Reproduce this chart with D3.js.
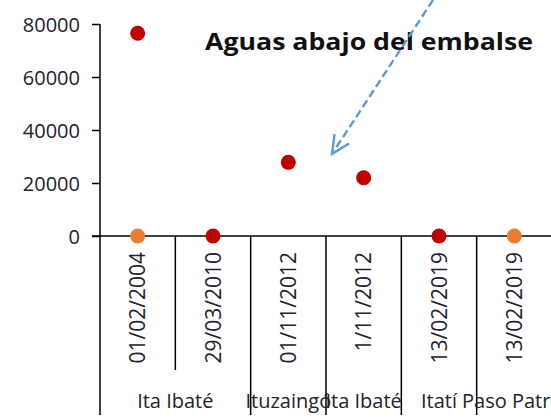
<!DOCTYPE html>
<html>
<head>
<meta charset="utf-8">
<script src="https://cdn.jsdelivr.net/npm/d3@7"></script>
<style>
  html, body { margin: 0; padding: 0; background: #fff; }
  svg { display: block; }
  text { font-family: "Open Sans", "Noto Sans", sans-serif; }
</style>
</head>
<body>
<svg id="chart" width="551" height="419"></svg>
<script>
// Sampling dates (one per category) and the site each belongs to
const dates = ["01/02/2004", "29/03/2010", "01/11/2012", "1/11/2012", "13/02/2019", "13/02/2019"];
const sites = ["Ita Ibaté", "Ita Ibaté", "Ituzaingó", "Ita Ibaté", "Itatí", "Paso Patria"];
// Two measured series (null = no sample)
const seriesRed = [76500, 0, 27800, 22000, 0, null];
const seriesOrange = [0, null, null, null, null, 0];
const yTicks = [0, 20000, 40000, 60000, 80000];
const title = "Aguas abajo del embalse";

(function () {
  const svg = d3.select("#chart");
  const plotLeft = 100, plotRight = 552, plotTop = 24, plotBase = 236;
  const textColor = "#22222e";

  const x = d3.scaleBand().domain(d3.range(dates.length)).range([plotLeft, plotRight]).padding(0);
  const y = d3.scaleLinear().domain([0, 80000]).range([plotBase, plotTop]);

  // Y axis
  const yAxis = svg.append("g")
    .attr("transform", `translate(${plotLeft},0)`)
    .call(d3.axisLeft(y).tickValues(yTicks).tickSize(8).tickPadding(12).tickFormat(d3.format("d")));
  yAxis.select(".domain").attr("stroke", "#000").attr("stroke-width", 1.5).attr("d", `M0,${plotTop}V${plotBase}`);
  yAxis.selectAll(".tick line").attr("stroke", "#000").attr("stroke-width", 1.5);
  yAxis.selectAll(".tick text")
    .attr("font-size", 20).attr("fill", textColor).attr("font-family", null).attr("dy", "0.36em");

  // Horizontal category axis
  svg.append("line")
    .attr("x1", plotLeft - 8).attr("x2", plotRight)
    .attr("y1", y(0)).attr("y2", y(0))
    .attr("stroke", "#000").attr("stroke-width", 1.5);

  // Category separators: long between sites, short inside a site group
  const groups = [];
  sites.forEach((s, i) => {
    if (i > 0 && s === sites[i - 1] && groups[groups.length - 1].end === i) {
      groups[groups.length - 1].end = i + 1;
    } else {
      groups.push({ name: s, start: i, end: i + 1 });
    }
  });
  const groupEdges = new Set(groups.flatMap(g => [g.start, g.end]));
  const edgeX = i => i < dates.length ? x(i) : plotRight;
  svg.append("g").selectAll("line")
    .data(d3.range(dates.length + 1))
    .join("line")
    .attr("x1", edgeX)
    .attr("x2", edgeX)
    .attr("y1", y(0))
    .attr("y2", i => groupEdges.has(i) ? 415 : 370)
    .attr("stroke", "#000").attr("stroke-width", 1.5);

  // Rotated date labels
  svg.append("g").selectAll("text")
    .data(dates)
    .join("text")
    .attr("transform", (d, i) => `translate(${x(i) + x.bandwidth() / 2},252) rotate(-90)`)
    .attr("text-anchor", "end")
    .attr("dy", "0.36em")
    .attr("font-size", 21)
    .attr("fill", textColor)
    .text(d => d);

  // Site group labels
  svg.append("g").selectAll("text")
    .data(groups)
    .join("text")
    .attr("x", g => (edgeX(g.start) + edgeX(g.end)) / 2)
    .attr("y", 408)
    .attr("text-anchor", "middle")
    .attr("font-size", 20)
    .attr("fill", textColor)
    .text(g => g.name);

  // Data points
  function drawSeries(values, color) {
    svg.append("g").selectAll("circle")
      .data(values.map((v, i) => ({ v, i })).filter(d => d.v !== null))
      .join("circle")
      .attr("cx", d => x(d.i) + x.bandwidth() / 2)
      .attr("cy", d => y(d.v))
      .attr("r", 7.5)
      .attr("fill", color);
  }
  drawSeries(seriesOrange, "#ed7d31");
  drawSeries(seriesRed, "#c00000");

  // Title
  svg.append("text")
    .attr("x", 205).attr("y", 50)
    .attr("font-size", 24).attr("font-weight", "bold")
    .attr("fill", "#111")
    .attr("textLength", 328).attr("lengthAdjust", "spacingAndGlyphs")
    .text(title);

  // Dashed callout arrow pointing down toward the mid-range points
  const tipX = x(3) + 6, tipY = y(31000);
  const startX = 433, startY = 0;
  svg.append("line")
    .attr("x1", startX).attr("y1", startY)
    .attr("x2", tipX).attr("y2", tipY)
    .attr("stroke", "#5b9bd5").attr("stroke-width", 2.4)
    .attr("stroke-dasharray", "8,4");
  const ang = Math.atan2(tipY - startY, tipX - startX);
  const headLen = 20, spread = 0.45;
  svg.append("path")
    .attr("d", `M${tipX + headLen * Math.cos(ang + Math.PI - spread)},${tipY + headLen * Math.sin(ang + Math.PI - spread)}`
      + `L${tipX},${tipY}`
      + `L${tipX + headLen * Math.cos(ang + Math.PI + spread)},${tipY + headLen * Math.sin(ang + Math.PI + spread)}`)
    .attr("fill", "none").attr("stroke", "#5b9bd5").attr("stroke-width", 2.4);
})();
</script>
</body>
</html>
